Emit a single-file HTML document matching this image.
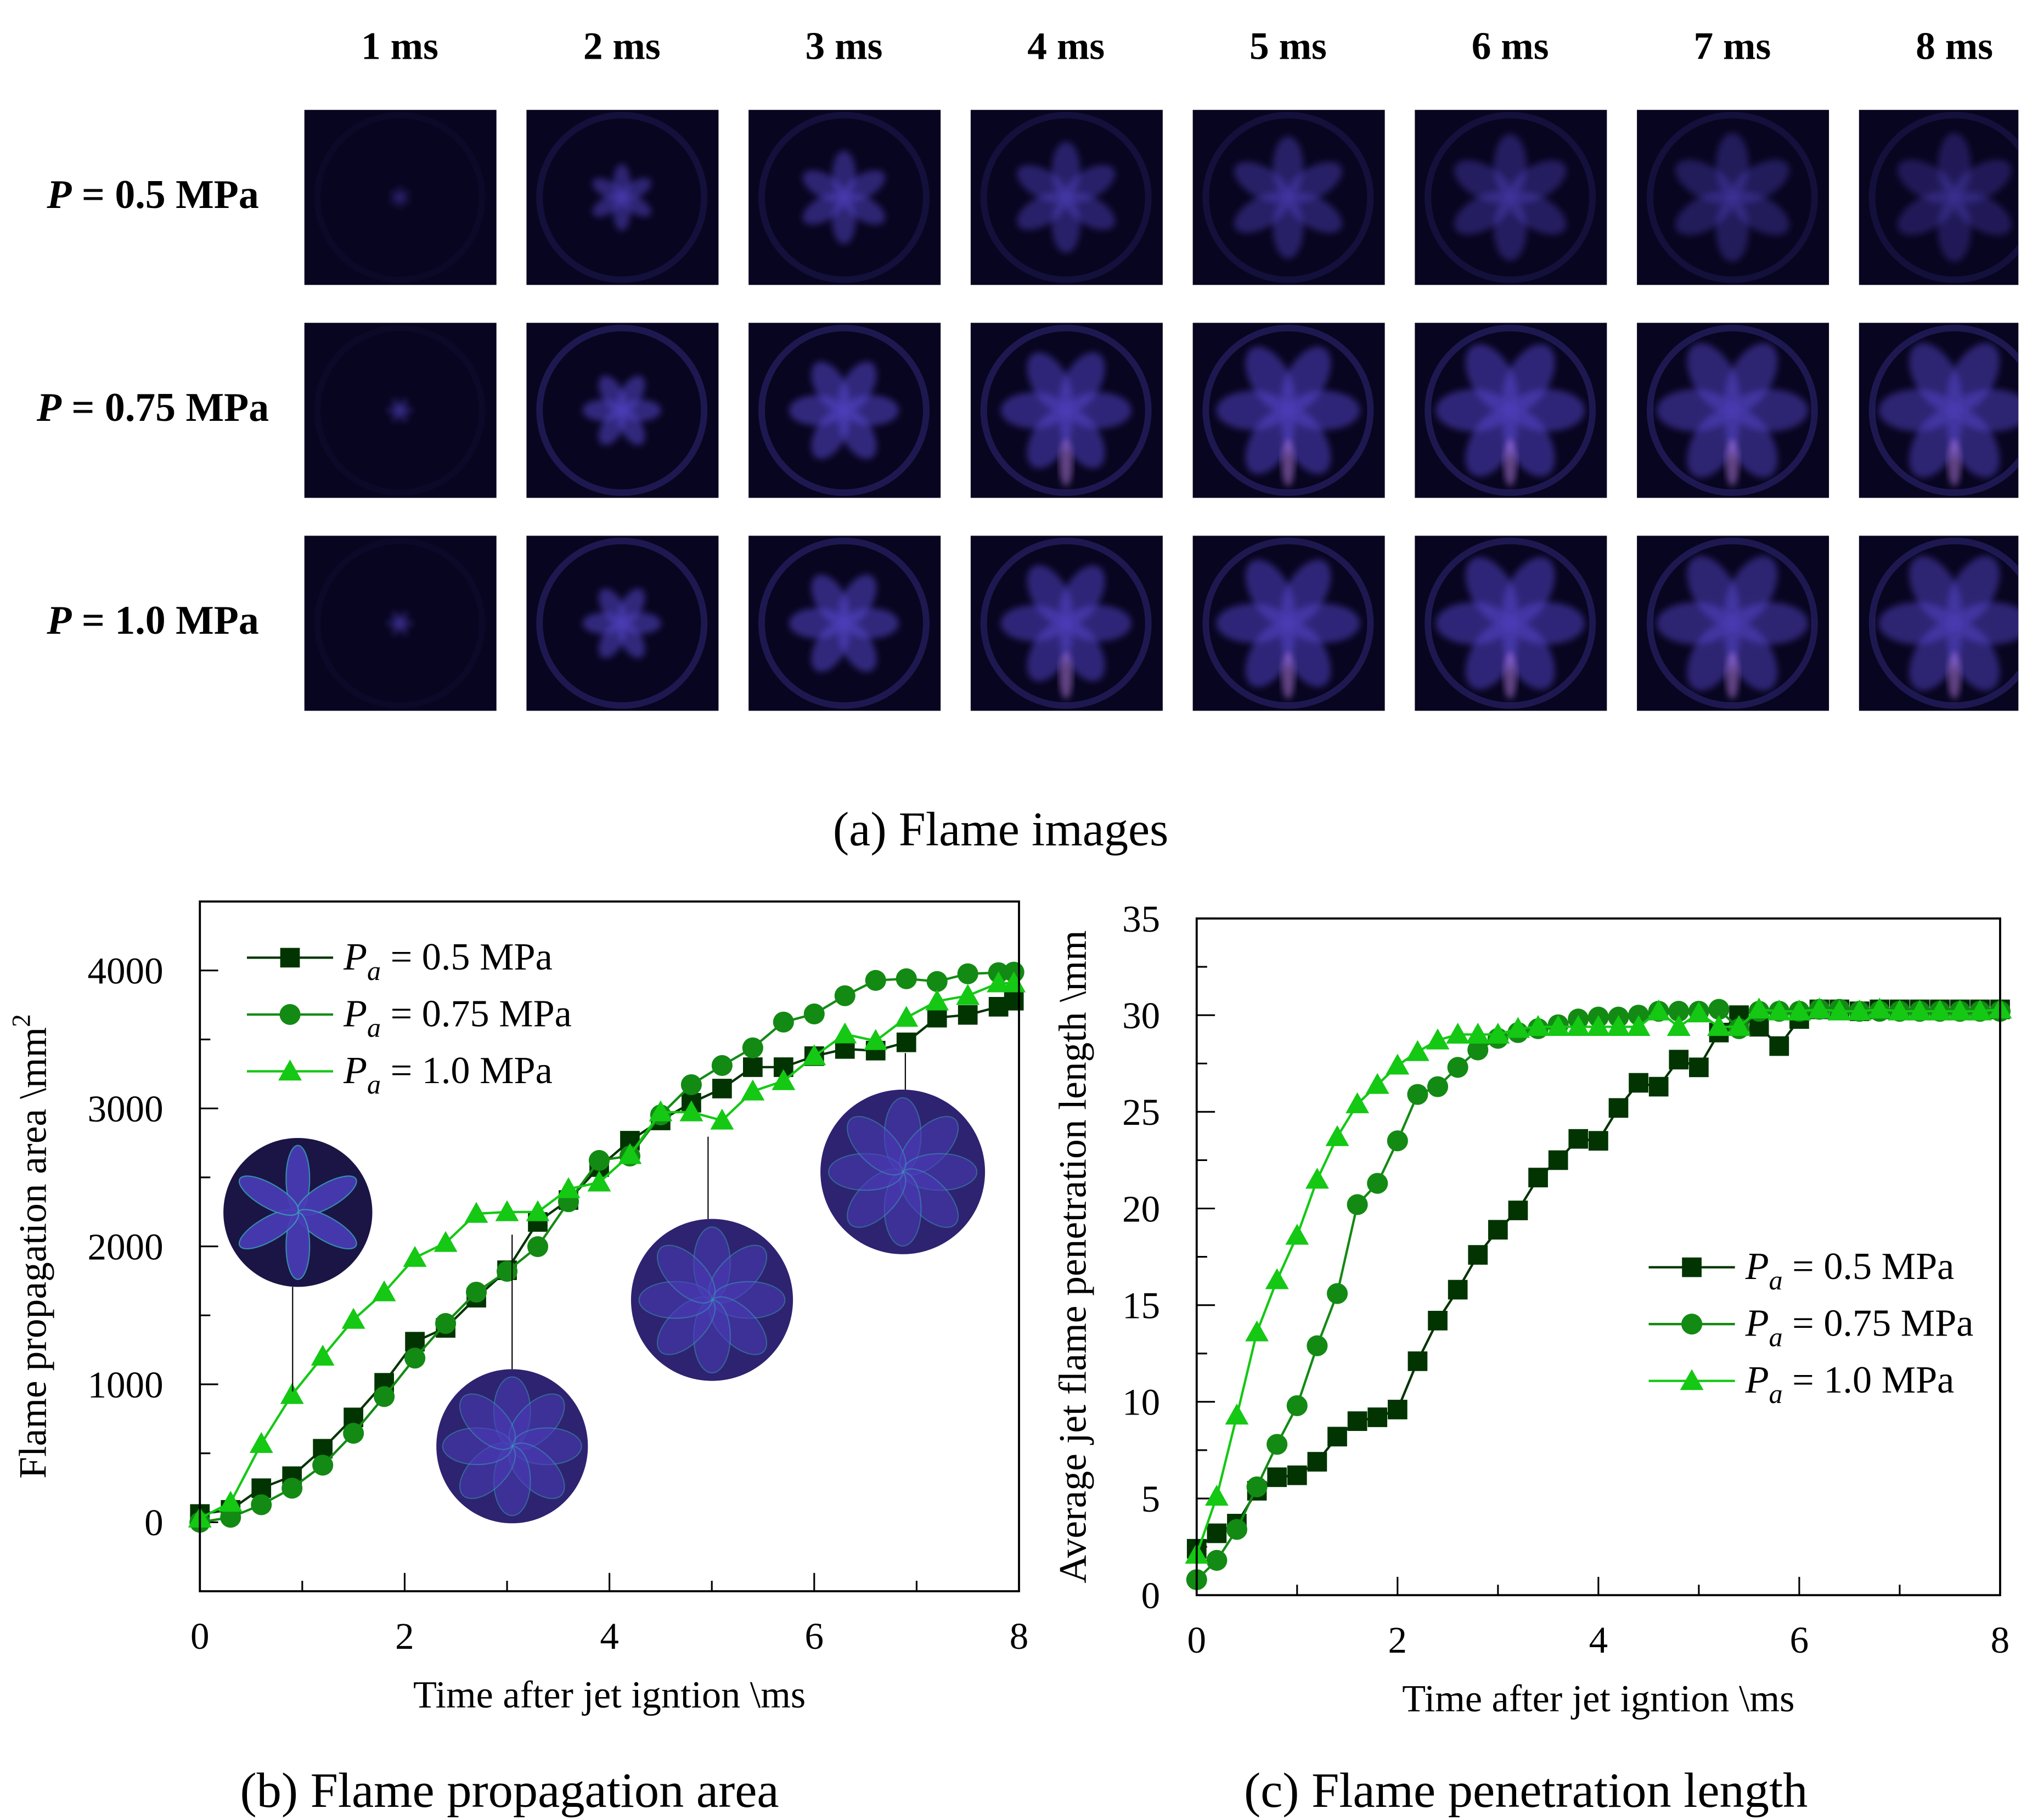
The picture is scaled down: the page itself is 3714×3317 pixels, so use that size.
<!DOCTYPE html>
<html><head><meta charset="utf-8">
<style>
html,body{margin:0;padding:0;background:#fff;}
svg{display:block;}
text{font-family:"Liberation Serif",serif;}
</style></head>
<body>
<svg id="fig" width="3714" height="3317" viewBox="0 0 1560 1393" xmlns="http://www.w3.org/2000/svg">
<defs>
<filter id="blur" x="-20%" y="-20%" width="140%" height="140%"><feGaussianBlur stdDeviation="2.5"/></filter>
<radialGradient id="inset" cx="50%" cy="50%" r="50%">
<stop offset="0" stop-color="#4a3aa8"/><stop offset="1" stop-color="#22185a"/>
</radialGradient>
</defs>
<g id="panelA"></g>
<text x="766" y="647" font-size="37" text-anchor="middle">(a) Flame images</text>
<g id="chartB"></g>
<g id="chartC"></g>
<text x="390" y="1383" font-size="38" text-anchor="middle">(b) Flame propagation area</text>
<text x="1168" y="1383" font-size="38" text-anchor="middle">(c) Flame penetration length</text>
</svg>
<script>
// ---- Panel (a) data ----
const colLabels = ["1 ms","2 ms","3 ms","4 ms","5 ms","6 ms","7 ms","8 ms"];
const rowLabels = ["0.5 MPa","0.75 MPa","1.0 MPa"];
// ---- Chart (b) data ----
const tB = [0,0.3,0.6,0.9,1.2,1.5,1.8,2.1,2.4,2.7,3.0,3.3,3.6,3.9,4.2,4.5,4.8,5.1,5.4,5.7,6.0,6.3,6.6,6.9,7.2,7.5,7.8,7.95];
const areaP05 = [60,90,247,334,533,760,1011,1309,1409,1628,1827,2177,2336,2575,2766,2913,3041,3144,3299,3299,3379,3431,3419,3479,3658,3678,3737,3781];
const areaP075 = [0,36,127,247,414,645,911,1190,1441,1668,1819,1998,2324,2623,2655,2953,3172,3311,3439,3626,3685,3817,3928,3940,3920,3976,3984,3988];
const areaP10 = [28,143,569,924,1202,1469,1668,1918,2026,2237,2249,2249,2416,2464,2663,2973,2973,2913,3124,3199,3379,3538,3490,3658,3777,3817,3908,3908];
const yTicksB = [0,1000,2000,3000,4000];
const xTicks = [0,2,4,6,8];
// ---- Chart (c) data ----
const tC = [0,0.2,0.4,0.6,0.8,1.0,1.2,1.4,1.6,1.8,2.0,2.2,2.4,2.6,2.8,3.0,3.2,3.4,3.6,3.8,4.0,4.2,4.4,4.6,4.8,5.0,5.2,5.4,5.6,5.8,6.0,6.2,6.4,6.6,6.8,7.0,7.2,7.4,7.6,7.8,8.0];
const lenP05 = [2.4,3.2,3.7,5.4,6.1,6.2,6.9,8.2,9.0,9.2,9.6,12.1,14.2,15.8,17.6,18.9,19.9,21.6,22.5,23.6,23.5,25.2,26.5,26.3,27.7,27.3,29.1,30.0,29.4,28.4,29.8,30.3,30.3,30.2,30.3,30.3,30.3,30.3,30.3,30.3,30.3];
const lenP075 = [0.8,1.8,3.4,5.6,7.8,9.8,12.9,15.6,20.2,21.3,23.5,25.9,26.3,27.3,28.2,28.8,29.1,29.3,29.5,29.8,29.9,29.9,30.0,30.2,30.2,30.2,30.3,29.3,30.2,30.2,30.2,30.3,30.3,30.2,30.2,30.2,30.2,30.2,30.2,30.2,30.2];
const lenP10 = [2.1,5.1,9.3,13.6,16.3,18.6,21.5,23.7,25.4,26.4,27.4,28.1,28.7,29.0,29.0,29.0,29.3,29.4,29.4,29.4,29.4,29.4,29.4,30.2,29.4,30.1,29.4,29.4,30.3,30.2,30.2,30.3,30.2,30.2,30.3,30.2,30.2,30.2,30.2,30.2,30.3];
const yTicksC = [0,5,10,15,20,25,30,35];
const seriesNames = ["0.5 MPa","0.75 MPa","1.0 MPa"];

const NS="http://www.w3.org/2000/svg";
function mk(tag, attrs, parent){const e=document.createElementNS(NS,tag);for(const k in attrs)e.setAttribute(k,attrs[k]);parent.appendChild(e);return e;}

// ---- Panel (a) ----
const pa=document.getElementById('panelA');
const colX=[233,403,573,743,913,1083,1253,1423];
const rowY=[84,247,410];
colLabels.forEach((c,i)=>{
  const t=mk('text',{x:colX[i]+73,y:45,'font-size':30,'font-weight':'bold','text-anchor':'middle'},pa);
  
  
  t.textContent=c;
});
rowLabels.forEach((r,j)=>{
  const t=mk('text',{x:117,y:rowY[j]+75,'font-size':31,'font-weight':'bold','text-anchor':'middle'},pa);
  
  
  const ti=mk('tspan',{'font-style':'italic'},t); ti.textContent='P';
  const t2=mk('tspan',{},t); t2.textContent=' = '+r;
});
for(let j=0;j<3;j++)for(let i=0;i<8;i++){
  const w=(i==7)?122:147, x=colX[i], y=rowY[j];
  const g=mk('g',{},pa);
  
  
  mk('rect',{x:x,y:y,width:w,height:134,fill:'#080520'},g);
  const cx=x+73, cy=y+67;
  const cp=mk('clipPath',{id:'cl'+j+'_'+i},g); mk('rect',{x:x,y:y,width:w,height:134},cp);
  const inner=mk('g',{'clip-path':'url(#cl'+j+'_'+i+')'},g);
  const ringA = i==0?0.1:(j==0?0.35:0.6);
  mk('circle',{cx:cx,cy:cy,r:63,fill:'none',stroke:'#2c2672','stroke-width':5,opacity:ringA},inner);
  const len=[10,30,42,50,55,57,58,58][i]*(j==0?0.85:1);
  const wid=[1.5,7,10,12,13,14,14,14][i]*(j==0?0.9:1.15);
  const op=(j==0?[0.4,0.45,0.45,0.4,0.38,0.35,0.32,0.3]:[0.5,0.5,0.5,0.48,0.48,0.48,0.45,0.45])[i];
  const pg=mk('g',{filter:'url(#blur)'},inner);
  for(let k=0;k<6;k++){
    const ang=k*60+(j==0?0:30);
    mk('ellipse',{cx:cx,cy:cy-len/2,rx:wid,ry:len/2,fill:'#5a4ad8',opacity:op,transform:'rotate('+ang+' '+cx+' '+cy+')'},pg);
  }
  if(j>0&&i>=3){mk('ellipse',{cx:cx,cy:cy+40,rx:5,ry:18,fill:'#d090ff',opacity:0.45,filter:'url(#blur)'},inner);}
}

// ---- Chart helper ----
const colors=['#013401','#138a13','#14c814'];
function chart(gid,box,xmin,xmax,ymin,ymax,yTicks,yMinor,xs,series,ylabel,legendPos,prefix,yOff){
  const g=document.getElementById(gid);
  const X=v=>box.l+(v-xmin)/(xmax-xmin)*(box.r-box.l);
  const Y=v=>box.b-(v-ymin)/(ymax-ymin)*(box.b-box.t);
  xTicks.forEach(v=>{
    const l=mk('line',{x1:X(v),x2:X(v),y1:box.b,y2:box.b-14,stroke:'#000','stroke-width':1.3},g);
    
    
    const t=mk('text',{x:X(v),y:box.b+44,'font-size':29,'text-anchor':'middle'},g);
    
    
    t.textContent=v;
  });
  [1,3,5,7].forEach(v=>{mk('line',{x1:X(v),x2:X(v),y1:box.b,y2:box.b-8,stroke:'#000','stroke-width':1.3},g);});
  yTicks.forEach(v=>{
    const l=mk('line',{x1:box.l,x2:box.l+14,y1:Y(v),y2:Y(v),stroke:'#000','stroke-width':1.3},g);
    
    
    const t=mk('text',{x:box.l-28,y:Y(v)+10,'font-size':29,'text-anchor':'end'},g);
    
    
    t.textContent=v;
  });
  yMinor.forEach(v=>{mk('line',{x1:box.l,x2:box.l+8,y1:Y(v),y2:Y(v),stroke:'#000','stroke-width':1.3},g);});
  series.forEach((s,si)=>{
    const sg=mk('g',{},g);
    
    
    const pts=xs.map((x,i)=>X(x).toFixed(1)+','+Y(s[i]).toFixed(1)).join(' ');
    mk('polyline',{points:pts,fill:'none',stroke:colors[si],'stroke-width':1.8},sg);
    xs.forEach((x,i)=>marker(sg,si,X(x),Y(s[i])));
  });
  const f=mk('rect',{x:box.l,y:box.t,width:box.r-box.l,height:box.b-box.t,fill:'none',stroke:'#000','stroke-width':1.6},g);
  
  
  const xt=mk('text',{x:(box.l+box.r)/2,y:box.b+89,'font-size':29.5,'text-anchor':'middle'},g);
  
  
  xt.textContent='Time after jet igntion \\ms';
  const yx=box.l-yOff, yy=(box.t+box.b)/2;
  const yt=mk('text',{x:yx,y:yy,'font-size':30,'text-anchor':'middle',transform:'rotate(-90 '+yx+' '+yy+')'},g);
  
  
  yt.innerHTML=ylabel;
  seriesNames.forEach((n,si)=>{
    const lg=mk('g',{},g);
    
    
    const ly=legendPos.y+si*43.5;
    mk('line',{x1:legendPos.x,x2:legendPos.x+66,y1:ly,y2:ly,stroke:colors[si],'stroke-width':1.8},lg);
    marker(lg,si,legendPos.x+33,ly);
    const t=mk('text',{x:legendPos.x+74,y:ly+9,'font-size':29.5},lg);
    const p=mk('tspan',{'font-style':'italic'},t); p.textContent='P';
    const a=mk('tspan',{'font-style':'italic','font-size':21,dy:8},t); a.textContent='a';
    const r=mk('tspan',{dy:-8},t); r.textContent=' = '+n;
  });
  return {X,Y,g};
}
function marker(g,si,x,y){
  const c=colors[si];
  if(si==0)mk('rect',{x:x-7.5,y:y-7.5,width:15,height:15,fill:c},g);
  else if(si==1)mk('circle',{cx:x,cy:y,r:8,fill:c},g);
  else mk('polygon',{points:`${x},${y-9} ${x-9},${y+7} ${x+9},${y+7}`,fill:c},g);
}

// ---- Chart (b) ----
const B=chart('chartB',{l:153,r:780,t:690,b:1218},0,8,-500,4500,yTicksB,[500,1500,2500,3500],tB,[areaP05,areaP075,areaP10],
 'Flame propagation area \\mm<tspan font-size="20" dy="-12">2</tspan>',{x:189,y:733},'area',118);
const insets=[{cx:228,cy:928,rx:57,ry:57,lx:224,l1:985,l2:1065},{cx:392,cy:1107,rx:58,ry:59,lx:392,l1:1048,l2:945},{cx:545,cy:995,rx:62,ry:62,lx:542,l1:933,l2:870},{cx:691,cy:897,rx:63,ry:63,lx:693,l1:834,l2:806}];
insets.forEach((c,k)=>{
  const g=mk('g',{},B.g);
  
  
  mk('line',{x1:c.lx,x2:c.lx,y1:c.l1,y2:c.l2,stroke:'#000','stroke-width':0.9},g);
  mk('ellipse',{cx:c.cx,cy:c.cy,rx:c.rx,ry:c.ry,fill:k==0?'#1a1545':'#2e2370'},g);
  const n=k==0?6:8;
  for(let i=0;i<n;i++){
    const ang=i*(360/n);
    mk('ellipse',{cx:c.cx,cy:c.cy-c.ry*0.45,rx:k==0?9:14,ry:c.ry*0.45,fill:'#4a3cb8',stroke:'#3a9ab8','stroke-width':0.9,opacity:k==0?0.9:0.55,transform:'rotate('+ang+' '+c.cx+' '+c.cy+')'},g);
  }
});
// ---- Chart (c) ----
chart('chartC',{l:916,r:1531,t:703,b:1221},0,8,0,35,yTicksC,[2.5,7.5,12.5,17.5,22.5,27.5,32.5],tC,[lenP05,lenP075,lenP10],
 'Average jet flame penetration length \\mm',{x:1262,y:970},'length',85);
</script>
</body></html>
